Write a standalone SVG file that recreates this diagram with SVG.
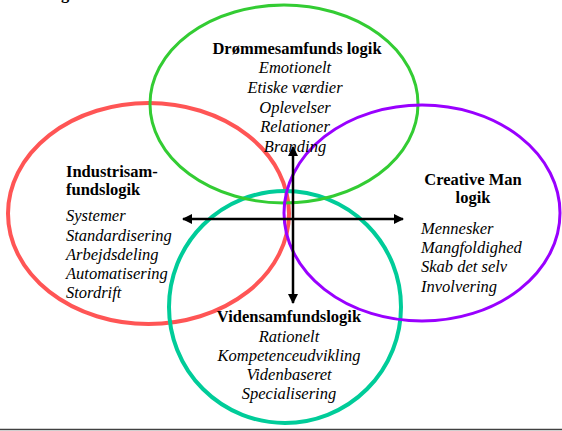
<svg xmlns="http://www.w3.org/2000/svg" width="562" height="431" viewBox="0 0 562 431">
<style>
.e{fill:none}
.t{font-family:"Liberation Serif","Times New Roman",serif;font-size:16.5px;fill:#000}
.b{font-weight:bold}
.i{font-style:italic}
.ax{stroke:#000;stroke-width:2.5;fill:none}
</style>
<defs>
<marker id="ah" viewBox="0 0 10 10" refX="9" refY="5" markerWidth="4" markerHeight="4" orient="auto-start-reverse" markerUnits="strokeWidth">
<path d="M0,0 L10,5 L0,10 Z" fill="#000"/>
</marker>
</defs>
<rect width="562" height="431" fill="#fff"/>
<text class="t b" x="61" y="-1">g</text>
<g id="node-industri">
<ellipse class="e" cx="148.5" cy="213.5" rx="140.5" ry="110.5" stroke="#FF5555" stroke-width="4"/>
</g>
<g id="node-viden">
<ellipse class="e" cx="285" cy="307" rx="116" ry="116" stroke="#00CC99" stroke-width="4"/>
</g>
<g id="node-drom">
<ellipse class="e" cx="284" cy="104" rx="134" ry="99" stroke="#33CC33" stroke-width="3"/>
</g>
<g id="node-creative">
<ellipse class="e" cx="422" cy="213" rx="138" ry="108" stroke="#9900FF" stroke-width="3"/>
</g>
<g id="connectors">
<line class="ax" x1="293" y1="303" x2="293" y2="147" marker-start="url(#ah)" marker-end="url(#ah)"/>
<line class="ax" x1="183" y1="219" x2="403" y2="219" marker-start="url(#ah)" marker-end="url(#ah)"/>
</g>
<g id="labels-drom" text-anchor="middle">
<text class="t b" x="297" y="54">Drømmesamfunds logik</text>
<text class="t i" x="295" y="73">Emotionelt</text>
<text class="t i" x="295" y="93">Etiske værdier</text>
<text class="t i" x="295" y="113">Oplevelser</text>
<text class="t i" x="295" y="132">Relationer</text>
<text class="t i" x="295" y="152">Branding</text>
</g>
<g id="labels-industri">
<text class="t b" x="66" y="177">Industrisam-</text>
<text class="t b" x="66" y="195">fundslogik</text>
<text class="t i" x="66" y="221">Systemer</text>
<text class="t i" x="66" y="241">Standardisering</text>
<text class="t i" x="66" y="260">Arbejdsdeling</text>
<text class="t i" x="66" y="279">Automatisering</text>
<text class="t i" x="66" y="298">Stordrift</text>
</g>
<g id="labels-creative">
<text class="t b" x="473" y="185" text-anchor="middle">Creative Man</text>
<text class="t b" x="473" y="203" text-anchor="middle">logik</text>
<text class="t i" x="421" y="234">Mennesker</text>
<text class="t i" x="421" y="253">Mangfoldighed</text>
<text class="t i" x="421" y="272">Skab det selv</text>
<text class="t i" x="421" y="292">Involvering</text>
</g>
<g id="labels-viden" text-anchor="middle">
<text class="t b" x="289" y="322">Vidensamfundslogik</text>
<text class="t i" x="289" y="342">Rationelt</text>
<text class="t i" x="289" y="361">Kompetenceudvikling</text>
<text class="t i" x="289" y="380">Videnbaseret</text>
<text class="t i" x="289" y="399">Specialisering</text>
</g>
<line x1="0" y1="429.5" x2="562" y2="429.5" stroke="#404040" stroke-width="1.5"/>
</svg>
